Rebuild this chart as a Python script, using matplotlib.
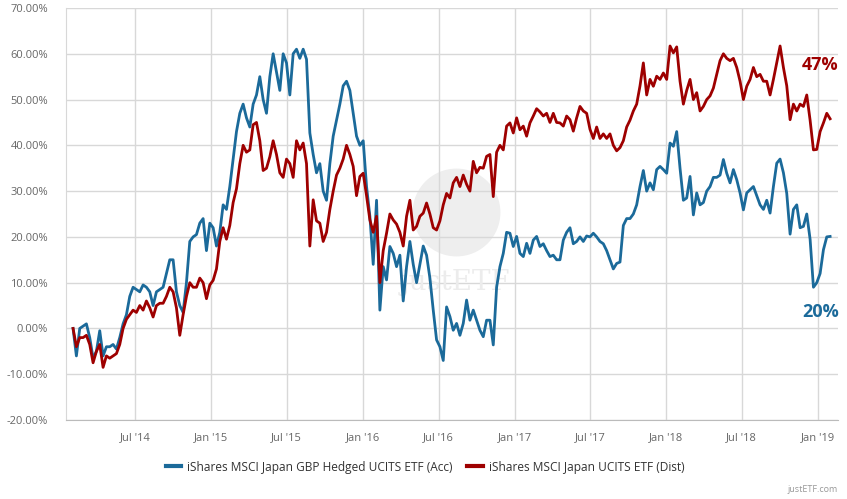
import pandas as pd
import matplotlib.pyplot as plt
import matplotlib.dates as mdates
from matplotlib.ticker import FuncFormatter, MultipleLocator

plt.rcParams["font.family"] = ["Open Sans", "DejaVu Sans"]

# performance in % (roughly weekly from Feb 2014 to Jan 2019)
hedged_acc = [
    0, -6, 0, 0.5, 1, -2, -6.5, -5, -0.5, -6, -4, -4, -3.5, -4.5, -2, 1, 3, 7, 9, 8.5,
    8, 9.5, 9, 8, 5, 8, 8.5, 9, 12, 15, 15, 8, 5, 3.5, 10, 19, 20, 20.5, 23, 24,
    17, 23, 22, 18, 21, 27, 26, 31, 37, 43, 47, 49, 46, 44, 49, 51, 55, 50, 47, 55,
    60, 56, 52, 60, 58, 51, 60, 61,
    59, 61, 58.8, 42.7, 38, 34, 36, 30, 28, 36, 42, 45.5, 49, 53, 54, 52, 47, 42, 40, 41,
    31, 24.5, 14, 28, 4, 13.5, 10.6, 17.9, 16.4, 13.5, 16, 6, 13.5, 19, 14, 10, 14, 18, 16, 11,
    4, -2.5, -4, -7, 4.7, 2.6, -0.4, 1.1, -1.5, 1.1, 6.2, 1.8, 4, 1.8, -0.4, -1.8, 1.8, 1.8, -3.6, 9,
    13.5, 16.4, 21, 20.8, 17.9, 20.1, 16.4, 15.7, 18.6, 16.4, 19.3, 20.1, 17.9, 18.5, 17, 15.7, 16, 15,
    15, 19.3, 21, 22, 18.5, 19, 20, 19, 20.2, 20, 20.8, 20, 19, 18.5, 17, 15, 13, 14.2, 14.5, 22.5,
    24, 24, 25, 27, 31, 34.5, 30, 31.8, 30.3, 34.7, 35.4, 34.7, 33.9, 40.5, 39.8, 43, 35, 28, 28.5, 33.2,
    24.8, 29.6, 27, 27.5, 30, 31, 33, 33, 33.5, 36.9, 33.9, 31.8, 34.7, 32.5, 29.6, 25.9, 29.6, 30.3, 31, 29,
    27, 26, 28, 25.2, 31, 36.1, 37, 34, 29.5, 20.6, 26, 27, 22, 22.3, 25, 19.5, 9, 10, 12, 17.2,
    20, 20.1,
]

japan_dist = [
    0, -4, -2, -2, -1.5, -3.5, -7.5, -5, -3.5, -8.5, -6, -6.5, -6, -5.5, -3.5, 0, 2, 3, 4, 3.5,
    5, 4, 6, 4.5, 2.5, 5, 5.5, 5.5, 7, 9, 8, 4.5, -1.5, 3, 7, 10, 9, 9, 11, 10,
    6.5, 9.5, 10.5, 13, 19, 22, 19.5, 22.5, 27.5, 30.5, 36, 40, 38.5, 39, 44.5, 45, 41, 34.5, 35, 37.5,
    41, 38, 34, 33, 37, 36, 33, 41,
    39, 40.5, 36, 18, 28.1, 23.5, 23, 19, 21, 26, 30, 33.5, 35, 37, 40, 38, 35.4, 29, 33.2, 33.9,
    29, 23.7, 21, 24.5, 10, 17, 20.8, 25, 23.7, 22.8, 21, 18, 24.5, 28, 21.5, 22.3, 24.5, 25.2, 27.4, 25,
    22, 21.5, 23.5, 27, 29.5, 28.5, 31.8, 33, 31, 33.5, 31.5, 30, 36.5, 34, 35.2, 35, 37.6, 38, 28.8, 38.5,
    40, 39, 44.2, 44.9, 42.7, 46, 43.4, 44.2, 42, 44.9, 46.4, 48, 47.3, 46.4, 47, 45, 47, 45,
    44.9, 44.2, 46.4, 45.6, 43.1, 46, 48.5, 47.5, 47, 43.5, 41.5, 44, 41.5, 42.5, 41.5, 42.5, 40, 38.8, 39.5, 41,
    44, 45.5, 47.5, 49, 53, 58, 51, 54.4, 52.9, 55.1, 54.4, 55.8, 54.4, 61.7, 60.2, 61.5, 54, 49, 52, 54.4,
    50, 51.5, 47.5, 48.5, 50, 50.8, 52.5, 55.5, 58.5, 60, 59, 58.5, 59, 57, 54, 50, 52.9, 54.4, 57, 55,
    55.5, 54, 54, 51, 54.4, 58, 61.7, 57, 53, 45.6, 49, 47.5, 49, 48.5, 51, 45.5, 39, 39.1, 43, 44.9,
    47, 45.8,
]

start_date = "2014-02-02"
end_date = "2019-01-30"
hedged_dates = pd.date_range(start_date, end_date, periods=len(hedged_acc))
dist_dates = pd.date_range(start_date, end_date, periods=len(japan_dist))

tick_dates = pd.to_datetime([
    "2014-07-01", "2015-01-01", "2015-07-01", "2016-01-01", "2016-07-01",
    "2017-01-01", "2017-07-01", "2018-01-01", "2018-07-01", "2019-01-01",
])
tick_labels = ["Jul '14", "Jan '15", "Jul '15", "Jan '16", "Jul '16",
               "Jan '17", "Jul '17", "Jan '18", "Jul '18", "Jan '19"]

hedged_name = "iShares MSCI Japan GBP Hedged UCITS ETF (Acc)"
dist_name = "iShares MSCI Japan UCITS ETF (Dist)"
blue = "#1b6a9a"
red = "#9e0000"

fig = plt.figure(figsize=(8.47, 4.99), dpi=100)
ax = fig.add_axes([66 / 847, 1 - 420 / 499, 772 / 847, 412 / 499])

# faint justETF watermark
ax.scatter([0.505], [0.505], s=4000, color="#eeeeee", transform=ax.transAxes,
           zorder=0.5, linewidths=0)
ax.text(0.505, 0.333, "justETF", transform=ax.transAxes, ha="center", va="center",
        fontsize=20, color="#ececec", family="DejaVu Serif", zorder=0.6)

ax.plot(hedged_dates, hedged_acc, color=blue, lw=2.0, label=hedged_name, zorder=3)
ax.plot(dist_dates, japan_dist, color=red, lw=2.0, label=dist_name, zorder=3)

ax.set_xlim(pd.Timestamp("2014-01-16"), pd.Timestamp("2019-02-18"))
ax.set_ylim(-20, 70)
ax.yaxis.set_major_locator(MultipleLocator(10))
ax.yaxis.set_major_formatter(FuncFormatter(lambda v, _: f"{v:.2f}%"))
ax.set_xticks(mdates.date2num(tick_dates))
ax.set_xticklabels(tick_labels)

ax.grid(True, color="#d8d8d8", lw=1)
ax.set_axisbelow(True)
ax.tick_params(axis="both", length=0, labelsize=8, labelcolor="#666666")
ax.tick_params(axis="x", pad=9)
ax.tick_params(axis="y", pad=13)
for side in ["top", "right"]:
    ax.spines[side].set_visible(False)
ax.spines["left"].set_color("#d8d8d8")
ax.spines["bottom"].set_color("#bbbbbb")

# last values
ax.text(0.977, 0.862, "47%", transform=ax.transAxes, ha="center", va="center",
        fontsize=13, fontweight="bold", color=red)
ax.text(0.977, 0.262, "20%", transform=ax.transAxes, ha="center", va="center",
        fontsize=13, fontweight="bold", color=blue)

leg = fig.legend(loc="center", bbox_to_anchor=(425 / 847, 1 - 467 / 499), ncol=2,
                 frameon=False, fontsize=8.6, handlelength=1.3, columnspacing=1.2,
                 handletextpad=0.5)
for line in leg.get_lines():
    line.set_linewidth(3)
for txt in leg.get_texts():
    txt.set_color("#333333")

fig.text(838 / 847, 1 - 490 / 499, "justETF.com", ha="right", va="center",
         fontsize=6.5, color="#999999")

fig.savefig("out.png", dpi=100)
